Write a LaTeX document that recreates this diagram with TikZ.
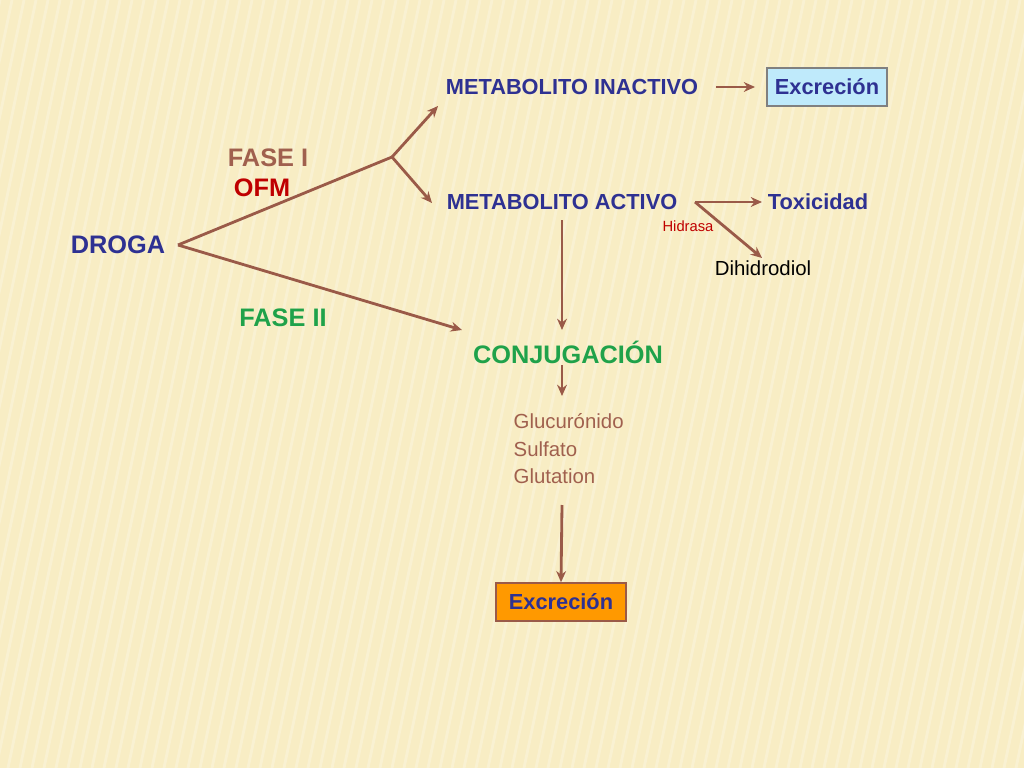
\documentclass[tikz,border=0pt]{standalone}
\usepackage{fontspec}
\setmainfont{Liberation Sans}
\usetikzlibrary{positioning,arrows.meta}
\definecolor{fondo}{HTML}{F8EDC4}
\definecolor{flecha}{HTML}{9A5A48}
\definecolor{azul}{HTML}{2E3192}
\definecolor{verde}{HTML}{1FA24A}
\definecolor{cafe}{HTML}{A0604E}
\tikzset{
  txt/.style={font=\fontsize{15.5}{18}\selectfont\bfseries,text=azul,inner sep=1pt},
  big/.style={font=\fontsize{18}{20}\selectfont\bfseries,inner sep=1pt},
  small/.style={font=\fontsize{14.5}{19.5}\selectfont,inner sep=1pt},
  flecha/.style={draw=flecha,line width=2pt,-{Stealth[length=8pt,width=7pt]}},
}
\begin{document}
\begin{tikzpicture}[x=0.025cm,y=-0.025cm]
    %Fondo
    \useasboundingbox (0,0) rectangle (1024,768);
    \fill[fondo] (0,0) rectangle (1024,768);
    \begin{scope}
    \clip (0,0) rectangle (1024,768);
    \foreach \x in {0,12,...,1200}{
        \draw[white,opacity=0.25,line width=2pt] (\x,0) -- (\x-160,768);
    }
    \end{scope}

    %Nodos
    \node[big,text=azul] (droga) at (118,245) {DROGA};
    \node[big,text=cafe] (fase1) at (268,158) {FASE I};
    \node[big,text=red!75!black] (ofm) at (262,188) {OFM};
    \node[big,text=verde] (fase2) at (283,318) {FASE II};
    \node[txt] (inact) at (572,87) {METABOLITO INACTIVO};
    \node[txt,draw=gray,fill=cyan!25,line width=1pt,minimum width=3cm,minimum height=0.95cm] (excr1) at (827,87) {Excreción};
    \node[txt] (act) at (562,202) {METABOLITO ACTIVO};
    \node[txt] (tox) at (818,202) {Toxicidad};
    \node[font=\fontsize{10.5}{12}\selectfont,text=red!75!black] (hidr) at (688,226) {Hidrasa};
    \node[small] (dihi) at (763,268) {Dihidrodiol};
    \node[big,text=verde] (conj) at (568,352) {CONJUGACIÓN};
    \node[small,text=cafe,align=left,anchor=north west] (conjug) at (512,412) {Glucurónido\\Sulfato\\Glutation};
    \node[txt,draw=flecha,fill=orange!80!yellow,line width=1pt,minimum width=3.25cm,minimum height=0.95cm] (excr2) at (561,602) {Excreción};
    \coordinate (vert) at (178,245);
    \coordinate (bif) at (392,157);
    \coordinate (ramif) at (695,202);

    %Conectores
    \draw[draw=flecha,line width=2pt] (vert) -- (bif);
    \draw[flecha] (vert) -- (462,330);
    \draw[flecha] (bif) -- (438,106);
    \draw[flecha] (bif) -- (432,203);
    \draw[flecha] (716,87) -- ([xshift=-8pt]excr1.west);
    \draw[flecha] (ramif) -- (762,202);
    \draw[flecha] (ramif) -- (762,258);
    \draw[flecha] (562,220) -- (562,330);
    \draw[flecha] (562,365) -- (562,396);
    \draw[flecha] (562,505) -- (excr2.north);
\end{tikzpicture}
\end{document}
